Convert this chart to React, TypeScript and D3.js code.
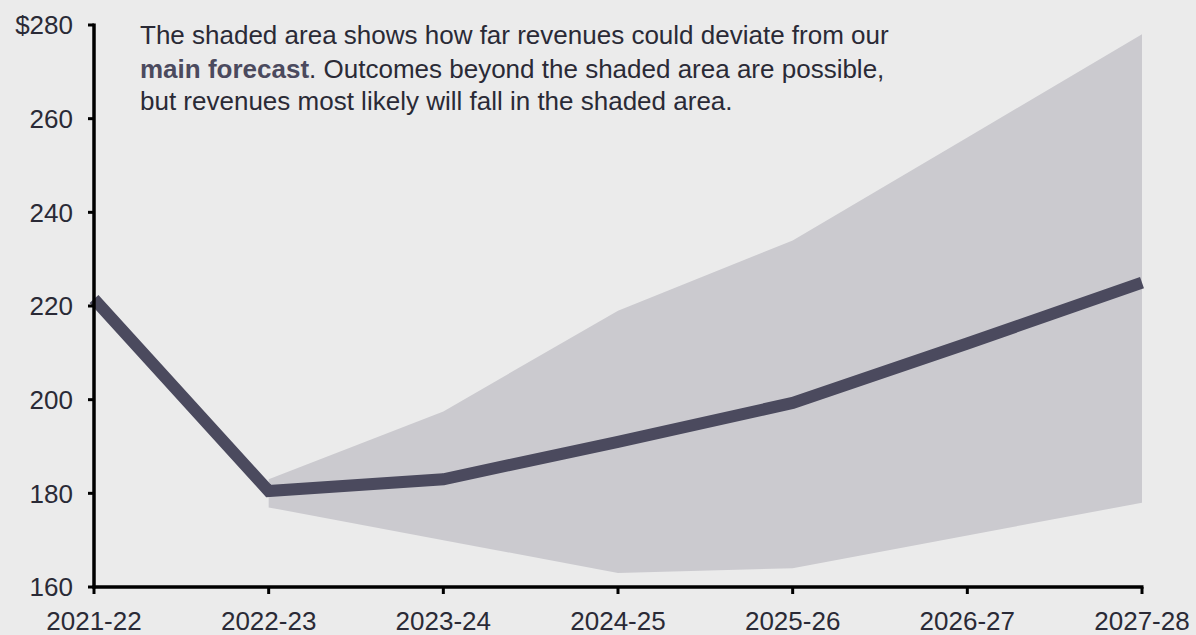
import React from "react";
import * as d3 from "d3";

const categories = ["2021-22", "2022-23", "2023-24", "2024-25", "2025-26", "2026-27", "2027-28"];
const mainForecast = [221.5, 180.5, 183, 191, 199.3, 212, 225];
const bandCategories = ["2022-23", "2023-24", "2024-25", "2025-26", "2026-27", "2027-28"];
const bandUpper = [183, 197.5, 219, 234, 256, 278];
const bandLower = [177, 170, 163, 164, 171, 178];
const yTicks = [160, 180, 200, 220, 240, 260, 280];

const W = 1196;
const H = 635;
const font = "'Liberation Sans', Arial, sans-serif";

export default function App() {
  const x = d3.scalePoint<string>().domain(categories).range([94, 1142]);
  const y = d3.scaleLinear().domain([160, 280]).range([587, 25]);

  const band = bandCategories.map((c, i) => ({ c, lo: bandLower[i], hi: bandUpper[i] }));
  const areaPath = d3
    .area<{ c: string; lo: number; hi: number }>()
    .x((d) => x(d.c)!)
    .y0((d) => y(d.lo))
    .y1((d) => y(d.hi))(band)!;

  const linePath = d3
    .line<number>()
    .x((_, i) => x(categories[i])!)
    .y((d) => y(d))(mainForecast)!;

  return (
    <div style={{ position: "fixed", left: 0, top: 0, width: W, height: H }}>
      <svg width={W} height={H} style={{ display: "block", background: "#ebebeb" }}>
        <path d={areaPath} fill="#cbcacf" />
        <path d={linePath} fill="none" stroke="#4b4a5e" strokeWidth={12} strokeLinejoin="miter" strokeLinecap="butt" />
        {/* y axis */}
        <line x1={94} x2={94} y1={y(280) - 1.5} y2={y(160) + 1.5} stroke="#000" strokeWidth={3.5} />
        {yTicks.map((t) => (
          <g key={t}>
            <line x1={88} x2={94} y1={y(t)} y2={y(t)} stroke="#000" strokeWidth={3} />
            <text x={73} y={y(t)} dy="0.36em" textAnchor="end" fontFamily={font} fontSize={26} fill="#2a2a36">
              {t === 280 ? "$280" : t}
            </text>
          </g>
        ))}
        {/* x axis */}
        <line x1={92.5} x2={1143.5} y1={587} y2={587} stroke="#000" strokeWidth={3.5} />
        {categories.map((c) => (
          <g key={c}>
            <line x1={x(c)!} x2={x(c)!} y1={587} y2={594} stroke="#000" strokeWidth={3} />
            <text x={x(c)!} y={621} dy="0.36em" textAnchor="middle" fontFamily={font} fontSize={26} fill="#2a2a36">
              {c}
            </text>
          </g>
        ))}
        {/* annotation */}
        <text fontFamily={font} fontSize={26} fill="#2a2a36">
          <tspan x={140} y={44}>The shaded area shows how far revenues could deviate from our</tspan>
          <tspan x={140} y={78}>
            <tspan fontWeight="bold" fill="#4b4a5e">main forecast</tspan>. Outcomes beyond the shaded area are possible,
          </tspan>
          <tspan x={140} y={110}>but revenues most likely will fall in the shaded area.</tspan>
        </text>
      </svg>
    </div>
  );
}
